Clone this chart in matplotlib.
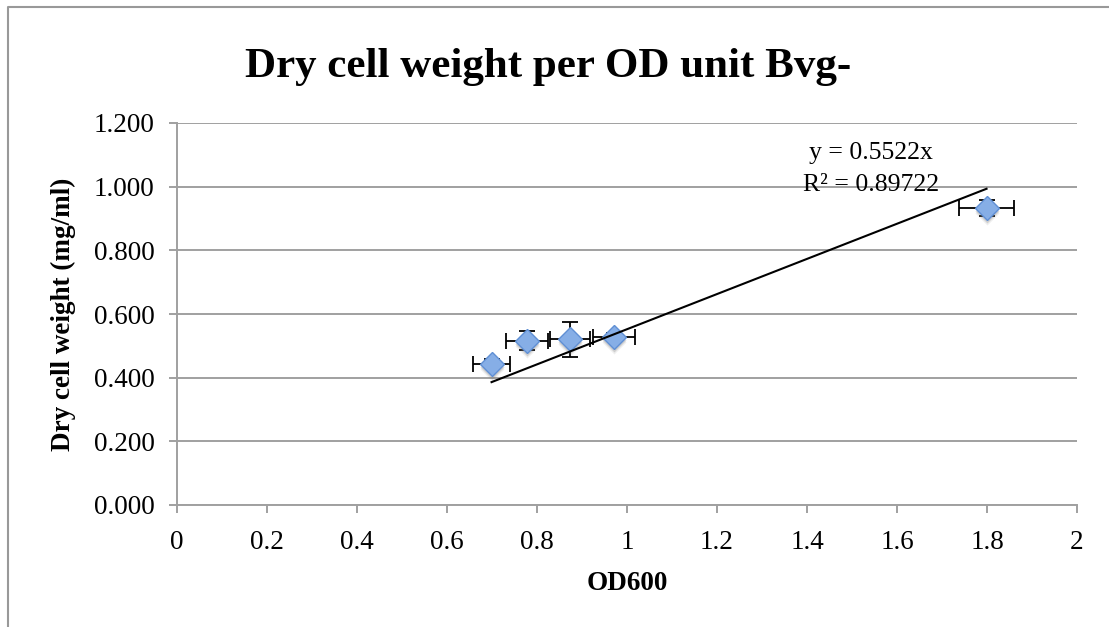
import numpy as np
import matplotlib.pyplot as plt
from matplotlib.lines import Line2D
from matplotlib.transforms import offset_copy

plt.rcParams['font.family'] = ['Liberation Serif', 'DejaVu Serif']

# data
od600 = [0.699, 0.777, 0.873, 0.971, 1.799]
dcw = [0.444, 0.516, 0.520, 0.527, 0.932]
od_err = [0.042, 0.047, 0.045, 0.046, 0.061]
dcw_err = [0.015, 0.030, 0.055, 0.012, 0.025]
slope = 0.5522
r2 = 0.89722

fig = plt.figure(figsize=(11.09, 6.27), dpi=100)
ax = fig.add_axes([177 / 1109, 1 - 505 / 627, 900 / 1109, 382 / 627])

grid_c = '#a0a0a0'
ax.set_xlim(0, 2)
ax.set_ylim(0, 1.2)
ax.set_xticks(np.arange(0, 2.01, 0.2))
ax.set_xticklabels(['0', '0.2', '0.4', '0.6', '0.8', '1', '1.2', '1.4', '1.6', '1.8', '2'])
ax.set_yticks(np.arange(0, 1.21, 0.2))
ax.set_yticklabels(['%.3f' % v for v in np.arange(0, 1.21, 0.2)])
ax.yaxis.grid(True, color=grid_c, lw=1.4)
ax.set_axisbelow(True)
for s in ['top', 'right']:
    ax.spines[s].set_visible(False)
for s in ['left', 'bottom']:
    ax.spines[s].set_color(grid_c)
    ax.spines[s].set_linewidth(1.4)
ax.tick_params(axis='both', direction='out', length=6, width=1.4, color=grid_c,
               labelsize=19.5)
ax.tick_params(axis='y', pad=10)
ax.tick_params(axis='x', pad=12)

# error bars below markers
ax.errorbar(od600, dcw, xerr=od_err, yerr=dcw_err, fmt='none', ecolor='black',
            elinewidth=1.3, capsize=5.5, capthick=1.3, zorder=2)

# soft shadow
for dy, a in [(-3, 0.25), (-5, 0.12)]:
    shadow = offset_copy(ax.transData, fig=fig, x=0, y=dy, units='dots')
    ax.plot(od600, dcw, 'D', ms=12.5, color='#777777', alpha=a, mec='none',
            transform=shadow, zorder=2.5)
ax.plot(od600, dcw, 'D', ms=12.5, mfc='#86aee6', mec='#5f8fd4', mew=1.0, zorder=3)

# trendline through origin
xt = np.array([min(od600), max(od600)])
ax.plot(xt, slope * xt, color='black', lw=1.5, zorder=4)

ax.text(1.542, 1.105, 'y = %.4fx' % slope, ha='center', va='center', fontsize=18.5)
ax.text(1.542, 1.005, 'R² = %.5f' % r2, ha='center', va='center', fontsize=18.5)

ax.set_xlabel('OD600', fontsize=19.5, fontweight='bold')
ax.xaxis.set_label_coords(0.5, -0.172)
ax.set_ylabel('Dry cell weight (mg/ml)', fontsize=19.5, fontweight='bold')
ax.yaxis.set_label_coords(-0.112, 0.5)
fig.text(548 / 1109, 1 - 67 / 627, 'Dry cell weight per OD unit Bvg-', ha='center',
         va='center', fontsize=31, fontweight='bold')

# outer chart frame
fig.add_artist(Line2D([8 / 1109, 8 / 1109, 1.0], [0.0, 1 - 7 / 627, 1 - 7 / 627],
                      transform=fig.transFigure, color='#999999', lw=1.5))

fig.savefig('out.png', dpi=100)
